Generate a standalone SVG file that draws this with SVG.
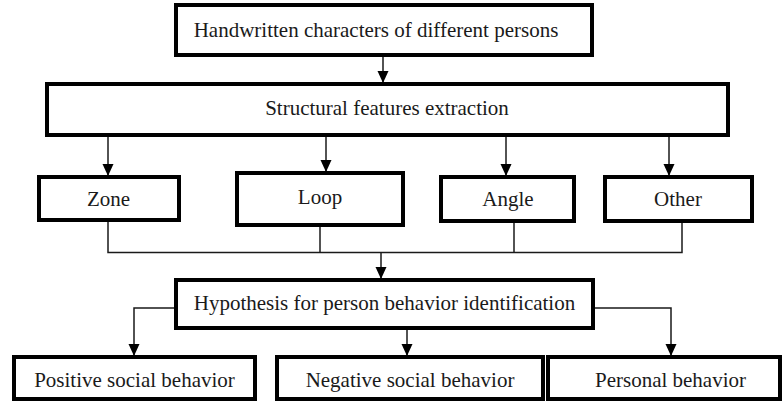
<svg xmlns="http://www.w3.org/2000/svg" width="782" height="402" viewBox="0 0 782 402">
  <style>
    .box { fill: #ffffff; stroke: #000000; stroke-width: 4; }
    .label { font-family: "Liberation Serif", "Times New Roman", serif; font-size: 21px; fill: #1a1a1a; text-anchor: middle; }
    .wire { fill: none; stroke: #1a1a1a; stroke-width: 1.5; }
  </style>
  <defs>
    <marker id="arrow" markerUnits="userSpaceOnUse" markerWidth="14" markerHeight="12" refX="12" refY="6" orient="auto">
      <path d="M0,0.5 L12,6 L0,11.5 Z" fill="#000000"/>
    </marker>
  </defs>

  <rect width="782" height="402" fill="#ffffff"/>

  <!-- connectors -->
  <g id="connectors">
    <line class="wire" x1="383" y1="56" x2="383" y2="83" marker-end="url(#arrow)"/>
    <line class="wire" x1="108" y1="137" x2="108" y2="176" marker-end="url(#arrow)"/>
    <line class="wire" x1="326" y1="137" x2="326" y2="172" marker-end="url(#arrow)"/>
    <line class="wire" x1="506" y1="137" x2="506" y2="176" marker-end="url(#arrow)"/>
    <line class="wire" x1="669" y1="137" x2="669" y2="176" marker-end="url(#arrow)"/>
    <!-- merge of the four feature boxes -->
    <polyline class="wire" points="108,222 108,252.5 682,252.5 682,222"/>
    <line class="wire" x1="320" y1="227" x2="320" y2="252.5"/>
    <line class="wire" x1="514" y1="223" x2="514" y2="252.5"/>
    <line class="wire" x1="381" y1="252.5" x2="381" y2="279" marker-end="url(#arrow)"/>
    <!-- hypothesis to behaviours -->
    <polyline class="wire" points="174,308 134,308 134,356" marker-end="url(#arrow)"/>
    <line class="wire" x1="407" y1="330" x2="407" y2="356" marker-end="url(#arrow)"/>
    <polyline class="wire" points="595,308 671,308 671,356" marker-end="url(#arrow)"/>
  </g>

  <g id="handwritten">
    <rect class="box" x="176" y="5" width="416" height="50"/>
    <text class="label" x="376" y="37">Handwritten characters of different persons</text>
  </g>
  <g id="extraction">
    <rect class="box" x="47" y="84" width="681" height="51"/>
    <text class="label" x="387" y="115">Structural features extraction</text>
  </g>
  <g id="zone">
    <rect class="box" x="39" y="177" width="140" height="43"/>
    <text class="label" x="108.5" y="206">Zone</text>
  </g>
  <g id="loop">
    <rect class="box" x="237" y="173" width="166" height="52"/>
    <text class="label" x="320" y="204">Loop</text>
  </g>
  <g id="angle">
    <rect class="box" x="441" y="177" width="133" height="44"/>
    <text class="label" x="508" y="206">Angle</text>
  </g>
  <g id="other">
    <rect class="box" x="605" y="177" width="147" height="44"/>
    <text class="label" x="678" y="206">Other</text>
  </g>
  <g id="hypothesis">
    <rect class="box" x="176" y="280" width="417" height="48"/>
    <text class="label" x="384.5" y="310">Hypothesis for person behavior identification</text>
  </g>
  <g id="positive">
    <rect class="box" x="14" y="357" width="241" height="42"/>
    <text class="label" x="134.5" y="387">Positive social behavior</text>
  </g>
  <g id="negative">
    <rect class="box" x="277" y="357" width="266" height="42"/>
    <text class="label" x="410" y="387">Negative social behavior</text>
  </g>
  <g id="personal">
    <rect class="box" x="548" y="357" width="232" height="42"/>
    <text class="label" x="670.5" y="387">Personal behavior</text>
  </g>
</svg>
